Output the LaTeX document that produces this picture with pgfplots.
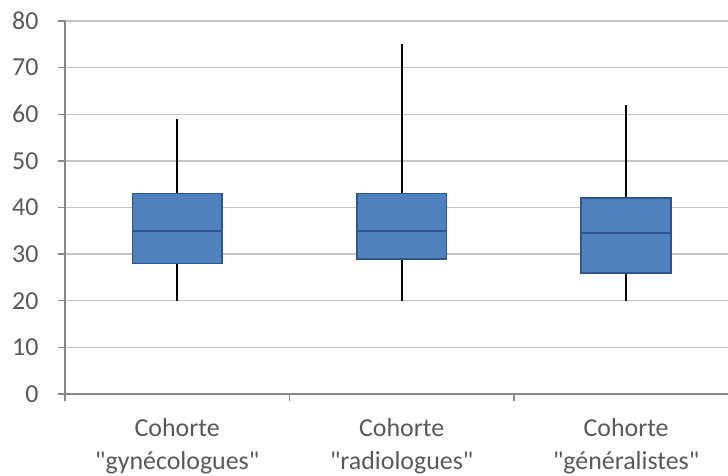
\documentclass[border=0pt]{standalone}
\usepackage{fontspec}
\setmainfont{Carlito}[Ligatures=TeXOff]
\usepackage{pgfplots}
\pgfplotsset{compat=1.18}
\definecolor{boxfill}{HTML}{4F81BD}
\definecolor{boxdraw}{HTML}{2E5590}
\definecolor{gridc}{HTML}{C4C4C4}
\definecolor{axisc}{HTML}{888888}
\definecolor{labc}{HTML}{595959}
\begin{document}
\begin{tikzpicture}
\begin{axis}[
  at={(0,0)}, anchor=south west,
  scale only axis,
  width=663bp, height=373bp,
  xmin=0.5, xmax=3.454,
  ymin=0, ymax=80,
  ytick={0,10,20,30,40,50,60,70,80},
  xtick={1,2,3},
  xticklabels={{Cohorte\\"gynécologues"},{Cohorte\\"radiologues"},{Cohorte\\"généralistes"}},
  minor xtick={0.5,1.5,2.5},
  axis lines*=left,
  axis line style={color=axisc, line width=1.3bp},
  ymajorgrids,
  grid style={color=gridc, line width=1.3bp},
  tick align=outside,
  major tick length=7bp,
  minor tick length=7bp,
  major x tick style={draw=none},
  minor x tick style={color=axisc, line width=1.3bp},
  major y tick style={color=axisc, line width=1.3bp},
  tick label style={font=\fontsize{26}{33}\selectfont, text=labc},
  xticklabel style={align=center, yshift=-14bp},
  yticklabel style={xshift=-16bp},
  /pgf/number format/assume math mode=true,
]
% whiskers
\addplot[black, line width=2bp] coordinates {(1,20) (1,28)};
\addplot[black, line width=2bp] coordinates {(1,43) (1,59)};
\addplot[black, line width=2bp] coordinates {(2,20) (2,29)};
\addplot[black, line width=2bp] coordinates {(2,43) (2,75)};
\addplot[black, line width=2bp] coordinates {(3,20) (3,26)};
\addplot[black, line width=2bp] coordinates {(3,42) (3,62)};
% boxes
\addplot[fill=boxfill, draw=boxdraw, line width=1.6bp] coordinates {(0.8,28) (1.2,28) (1.2,43) (0.8,43)} -- cycle;
\addplot[fill=boxfill, draw=boxdraw, line width=1.6bp] coordinates {(1.8,29) (2.2,29) (2.2,43) (1.8,43)} -- cycle;
\addplot[fill=boxfill, draw=boxdraw, line width=1.6bp] coordinates {(2.8,26) (3.2,26) (3.2,42) (2.8,42)} -- cycle;
% medians
\addplot[boxdraw, line width=1.6bp] coordinates {(0.8,35) (1.2,35)};
\addplot[boxdraw, line width=1.6bp] coordinates {(1.8,35) (2.2,35)};
\addplot[boxdraw, line width=1.6bp] coordinates {(2.8,34.5) (3.2,34.5)};
\end{axis}
\pgfresetboundingbox
\path[use as bounding box] (-65bp,-82bp) rectangle (663bp,394bp);
\end{tikzpicture}
\end{document}
